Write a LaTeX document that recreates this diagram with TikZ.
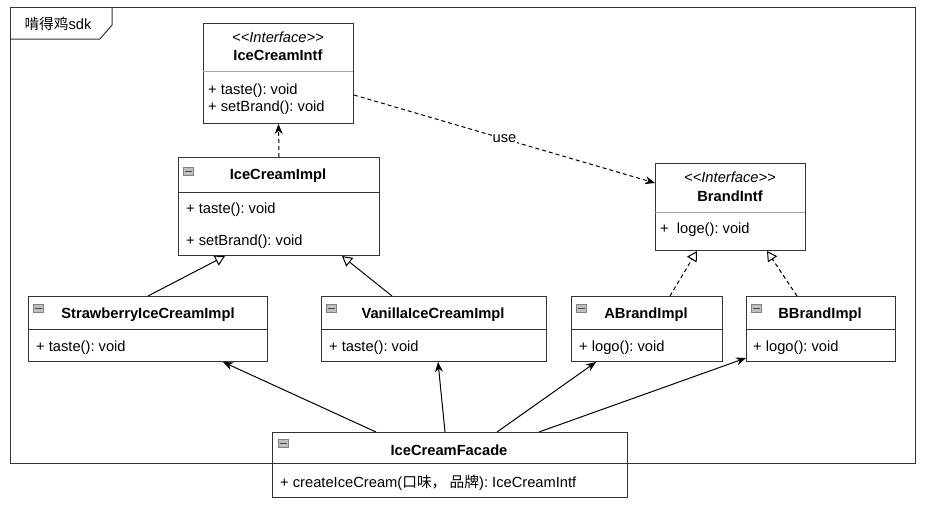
\documentclass[tikz,border=0pt]{standalone}
\usepackage{fontspec}
\setmainfont{Liberation Sans}
\newfontfamily\cjk{Noto Sans CJK SC}
\usetikzlibrary{arrows.meta,calc}
\frenchspacing
\begin{document}
\begin{tikzpicture}[x=1pt,y=-1pt,
  font=\fontsize{14.7}{17}\selectfont,
  classbox/.style={draw=black!80, line width=1pt, fill=white, inner sep=0pt, anchor=north west},
  sepline/.style={draw=black!80, line width=1pt},
  greysep/.style={draw=black!35, line width=1pt},
  title/.style={font=\fontsize{14.7}{17}\selectfont\bfseries, anchor=center, inner sep=0pt, yshift=-1.5pt},
  stereo/.style={font=\fontsize{14.7}{17}\selectfont\itshape, anchor=center, inner sep=0pt, yshift=-1pt},
  member/.style={anchor=west, inner sep=0pt, yshift=-1.5pt},
  icon/.style={draw=black!50, fill=black!25, line width=0.6pt, minimum width=10pt, minimum height=8pt, inner sep=0pt},
  depend/.style={draw=black, line width=1pt, dash pattern=on 4pt off 3pt, -{Stealth[length=10pt,width=8pt]}},
  assoc/.style={draw=black, line width=1pt, -{Stealth[length=10pt,width=8pt]}},
  general/.style={draw=black, line width=1pt, -{Triangle[open,length=10pt,width=11pt]}},
  realize/.style={draw=black, line width=1pt, dash pattern=on 4pt off 3pt, -{Triangle[open,length=10pt,width=11pt]}},
  framebox/.style={draw=black!80, line width=1pt}
]
\useasboundingbox (0,0) rectangle (925,506);

% frame
\draw[framebox] (10,7) rectangle (915,463);
\draw[framebox] (10,39) -- (100,39) -- (112,25) -- (112,7);
\node[anchor=center, inner sep=0pt, yshift=-1pt] (framelabel) at (58,23) {{\cjk 啃得鸡}sdk};

% IceCreamIntf
\node[classbox, minimum width=150pt, minimum height=100pt] (icintf) at (203,23) {};
\draw[greysep] (203,71) -- (353,71);
\node[stereo] (icintfst) at (278,36) {<\kern0pt<Interface>\kern0pt>};
\node[title] (icintfname) at (278,54) {IceCreamIntf};
\node[member] (icintfm1) at (208,89) {+ taste(): void};
\node[member] (icintfm2) at (208,106) {+ setBrand(): void};

% IceCreamImpl
\node[classbox, minimum width=201pt, minimum height=98pt] (icimpl) at (178,157) {};
\draw[sepline] (178,192) -- (379,192);
\node[icon] (icimplicon) at (188,171) {};
\draw[black!70, line width=1pt] (184.5,171) -- (191.5,171);
\node[title] (icimplname) at (278,174) {IceCreamImpl};
\node[member] (icimplm1) at (186,208) {+ taste(): void};
\node[member] (icimplm2) at (186,240) {+ setBrand(): void};

% BrandIntf
\node[classbox, minimum width=150pt, minimum height=87pt] (brandintf) at (655,163) {};
\draw[greysep] (655,212) -- (805,212);
\node[stereo] (brandintfst) at (730,176) {<\kern0pt<Interface>\kern0pt>};
\node[title] (brandintfname) at (730,195) {BrandIntf};
\node[member] (brandintfm1) at (660,228) {+\ \ loge(): void};

% StrawberryIceCreamImpl
\node[classbox, minimum width=239pt, minimum height=65pt] (straw) at (28,296) {};
\draw[sepline] (28,329) -- (267,329);
\node[icon] (strawicon) at (38,308) {};
\draw[black!70, line width=1pt] (34.5,308) -- (41.5,308);
\node[title] (strawname) at (148,313) {StrawberryIceCreamImpl};
\node[member] (strawm1) at (36,346) {+ taste(): void};

% VanillaIceCreamImpl
\node[classbox, minimum width=225pt, minimum height=65pt] (vanilla) at (321,296) {};
\draw[sepline] (321,329) -- (546,329);
\node[icon] (vanillaicon) at (331,308) {};
\draw[black!70, line width=1pt] (327.5,308) -- (334.5,308);
\node[title] (vanillaname) at (433,313) {VanillaIceCreamImpl};
\node[member] (vanillam1) at (329,346) {+ taste(): void};

% ABrandImpl
\node[classbox, minimum width=151pt, minimum height=65pt] (abrand) at (571,296) {};
\draw[sepline] (571,329) -- (722,329);
\node[icon] (abrandicon) at (581,308) {};
\draw[black!70, line width=1pt] (577.5,308) -- (584.5,308);
\node[title] (abrandname) at (646,313) {ABrandImpl};
\node[member] (abrandm1) at (579,346) {+ logo(): void};

% BBrandImpl
\node[classbox, minimum width=149pt, minimum height=65pt] (bbrand) at (746,296) {};
\draw[sepline] (746,329) -- (895,329);
\node[icon] (bbrandicon) at (756,308) {};
\draw[black!70, line width=1pt] (752.5,308) -- (759.5,308);
\node[title] (bbrandname) at (820,313) {BBrandImpl};
\node[member] (bbrandm1) at (753,346) {+ logo(): void};

% IceCreamFacade
\node[classbox, minimum width=355pt, minimum height=65pt] (facade) at (272,432) {};
\draw[sepline] (272,463) -- (627,463);
\node[icon] (facadeicon) at (283,443) {};
\draw[black!70, line width=1pt] (279.5,443) -- (286.5,443);
\node[title] (facadename) at (449,449) {IceCreamFacade};
\node[member] (facadem1) at (280,481) {+ createIceCream({\cjk 口味，\ 品牌}): IceCreamIntf};

% connectors
\draw[depend] (icimpl.north) -- (icintf.south);
\draw[depend] ($(icintf.north east)+(0,72)$) -- node[fill=white, inner sep=1pt, anchor=center] (uselabel) {use} ($(brandintf.north west)+(0,20)$);
\draw[general] (straw.north) -- ($(icimpl.south west)+(47,0)$);
\draw[general] ($(vanilla.north west)+(71,0)$) -- ($(icimpl.south west)+(164,0)$);
\draw[realize] ($(abrand.north west)+(99,0)$) -- ($(brandintf.south west)+(42,0)$);
\draw[realize] ($(bbrand.north west)+(51,0)$) -- ($(brandintf.south west)+(112,0)$);
\draw[assoc] ($(facade.north west)+(104,0)$) -- ($(straw.south west)+(195,0)$);
\draw[assoc] ($(facade.north west)+(173,0)$) -- ($(vanilla.south west)+(117,0)$);
\draw[assoc] ($(facade.north west)+(225,0)$) -- ($(abrand.south west)+(25,0)$);
\draw[assoc] ($(facade.north west)+(267,0)$) -- ($(bbrand.north west)+(0,62)$);
\end{tikzpicture}
\end{document}
